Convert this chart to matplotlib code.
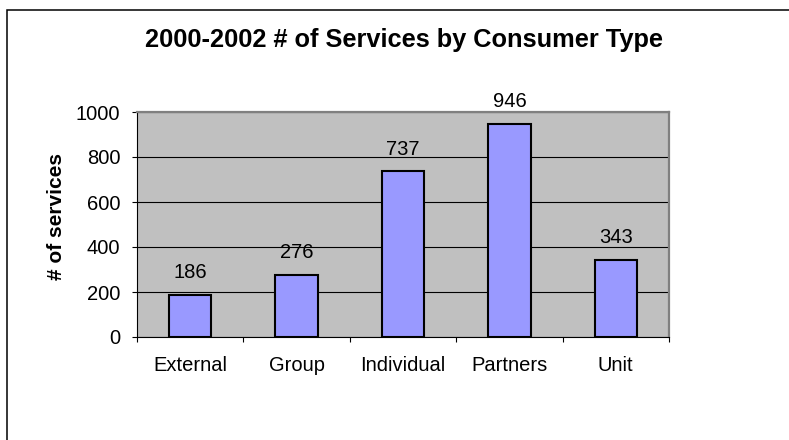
import numpy as np
import matplotlib.pyplot as plt
from matplotlib.patches import Rectangle

# Data
categories = ['External', 'Group', 'Individual', 'Partners', 'Unit']
services = [186, 276, 737, 946, 343]
title = '2000-2002 # of Services by Consumer Type'

plt.rcParams['font.family'] = ['Liberation Sans', 'DejaVu Sans']

W, H = 789, 440
fig = plt.figure(figsize=(W / 100, H / 100), dpi=100)
fig.patch.set_facecolor('white')

# chart area border (runs off the right and bottom edges)
fig.patches.append(Rectangle((6.5 / W, -0.1), 1.2, 1 - 10.5 / H + 0.1,
                             transform=fig.transFigure, fill=False,
                             edgecolor='black', linewidth=1.1))

left, right, top, bottom = 137, 669, 112, 337
ax = fig.add_axes([left / W, 1 - bottom / H, (right - left) / W, (bottom - top) / H])
ax.set_facecolor('#C0C0C0')

x = np.arange(len(categories))
ax.bar(x, services, width=0.4, color='#9999FF', edgecolor='black', linewidth=1.5, zorder=3)

for xi, v in zip(x, services):
    ax.annotate(str(v), (xi, v), xytext=(0, 12), textcoords='offset points',
                ha='center', va='baseline', fontsize=14.5)

ax.set_xlim(-0.5, len(categories) - 0.5)
ax.set_ylim(0, 1000)
ax.set_yticks(np.arange(0, 1001, 200))
ax.yaxis.grid(True, color='black', linewidth=0.8, zorder=1)
ax.set_axisbelow(True)

# ticks between categories, labels at category centres
ax.set_xticks(np.arange(-0.5, len(categories), 1))
ax.set_xticklabels([])
ax.set_xticks(x, minor=True)
ax.set_xticklabels(categories, minor=True, fontsize=14.5)
ax.tick_params(axis='x', which='major', direction='out', length=3.6, width=0.8)
ax.tick_params(axis='x', which='minor', length=0, pad=14)
ax.tick_params(axis='y', direction='out', length=3.6, width=0.8, pad=8.5, labelsize=14.5)

for s in ['left', 'bottom']:
    ax.spines[s].set_color('black')
    ax.spines[s].set_linewidth(0.8)
for s in ['top', 'right']:
    ax.spines[s].set_color('#808080')
    ax.spines[s].set_linewidth(1.6)

ax.set_ylabel('# of services', fontsize=15, fontweight='bold')
ax.yaxis.set_label_coords(-0.134, 0.536)

fig.text(404 / W, 1 - 40 / H, title, ha='center', va='center',
         fontsize=18.3, fontweight='bold')

plt.savefig('out.png', dpi=100)
